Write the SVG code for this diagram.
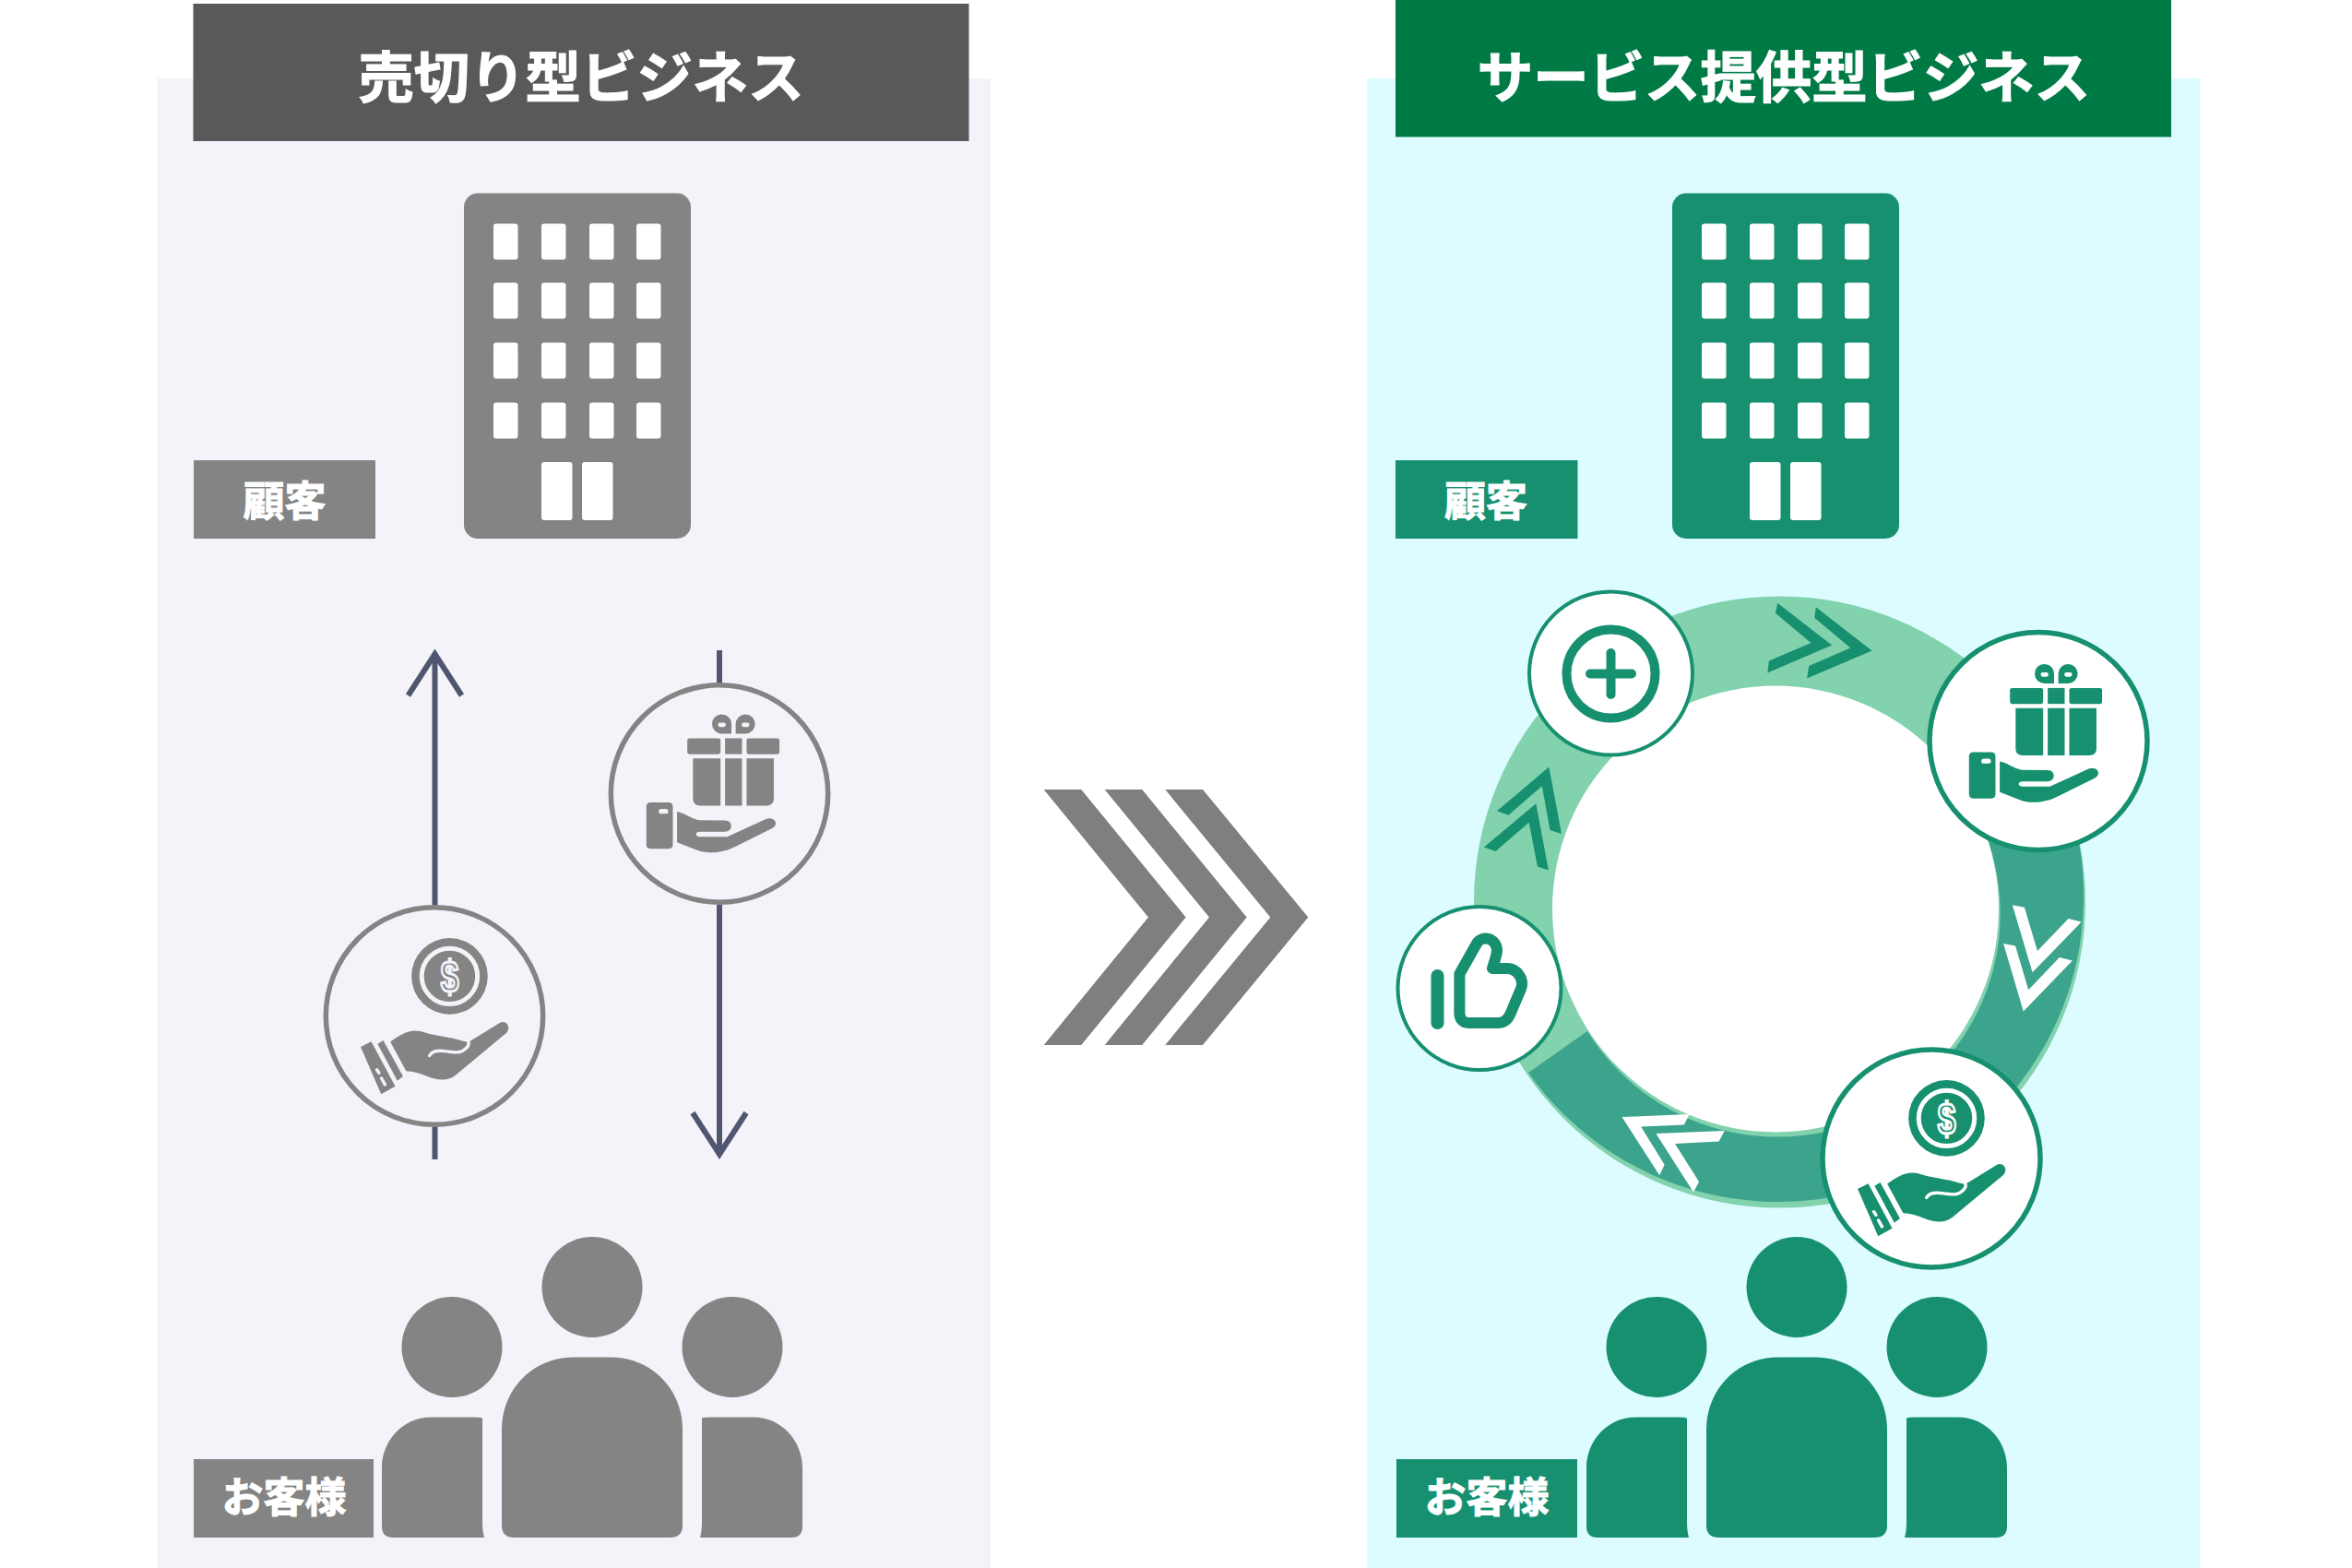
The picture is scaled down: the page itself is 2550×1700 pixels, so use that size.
<svg xmlns="http://www.w3.org/2000/svg" xmlns:xlink="http://www.w3.org/1999/xlink" width="2550" height="1700" viewBox="0 0 2550 1700">
<style>
text{font-family:"Noto Sans CJK JP","Liberation Sans",sans-serif;font-weight:700;fill:#fff;text-anchor:middle;stroke:#fff}
.title{font-size:60.400px;stroke-width:1.200}
.lab{font-size:45px;stroke-width:1}
.grey{color:#848484;--bg:#f3f3f9}
.teal{color:#179070;--bg:#fff}
.cc{fill:currentColor}
.bubble{fill:var(--bg);stroke:currentColor}
.win{fill:#fff}
.wire{fill:none;stroke:#50566f;stroke-width:6}
.chev{fill:#7f7f7f}
.cut{fill:none;stroke:var(--bg);stroke-linecap:round}
.dollar{font-family:"Liberation Sans",sans-serif;font-weight:700;font-size:128px;fill:currentColor;stroke:var(--bg);stroke-width:8}
.ico{fill:none;stroke:#179070;stroke-linecap:round;stroke-linejoin:round}
</style>
<defs>
<marker id="open" markerUnits="userSpaceOnUse" markerWidth="120" markerHeight="120" refX="60" refY="60" orient="auto" viewBox="0 0 120 120" overflow="visible">
<path d="M15,31 L60,60 L15,89" fill="none" stroke="#50566f" stroke-width="6"/>
</marker>
<g id="tower">
<rect x="0" y="0" width="246" height="374.500" rx="15" ry="15" class="cc"/>
<g class="win">
<rect x="32" y="33" width="26.500" height="39" rx="3"/><rect x="84" y="33" width="26.500" height="39" rx="3"/><rect x="136" y="33" width="26.500" height="39" rx="3"/><rect x="187" y="33" width="26.500" height="39" rx="3"/>
<rect x="32" y="97" width="26.500" height="39" rx="3"/><rect x="84" y="97" width="26.500" height="39" rx="3"/><rect x="136" y="97" width="26.500" height="39" rx="3"/><rect x="187" y="97" width="26.500" height="39" rx="3"/>
<rect x="32" y="162" width="26.500" height="39" rx="3"/><rect x="84" y="162" width="26.500" height="39" rx="3"/><rect x="136" y="162" width="26.500" height="39" rx="3"/><rect x="187" y="162" width="26.500" height="39" rx="3"/>
<rect x="32" y="227" width="26.500" height="39" rx="3"/><rect x="84" y="227" width="26.500" height="39" rx="3"/><rect x="136" y="227" width="26.500" height="39" rx="3"/><rect x="187" y="227" width="26.500" height="39" rx="3"/>
<rect x="84" y="291.500" width="33.500" height="63" rx="3"/><rect x="128" y="291.500" width="33.500" height="63" rx="3"/>
</g>
</g>
<g id="people" class="cc">
<circle cx="642" cy="1395.500" r="54.500"/>
<circle cx="490" cy="1460.500" r="54.500"/>
<circle cx="794" cy="1460.500" r="54.500"/>
<path d="M544,1550 C544,1506 578,1471.500 622,1471.500 L662,1471.500 C706,1471.500 740,1506 740,1550 L740,1654 Q740,1667 726,1667 L558,1667 Q544,1667 544,1654 Z"/>
<path d="M414,1591 C414,1565 434,1536.500 468,1536.500 L514,1536.500 Q520,1536.500 523,1537.500 L523,1650 Q523,1660 525,1667 L426,1667 Q414,1667 414,1655 Z"/>
<path d="M870,1591 C870,1565 850,1536.500 816,1536.500 L770,1536.500 Q764,1536.500 761,1537.500 L761,1650 Q761,1660 759,1667 L858,1667 Q870,1667 870,1655 Z"/>
</g>
<g id="gift" transform="scale(.3827) translate(-1203,-420)" class="cc" fill-rule="evenodd">
<path d="M1237,250 L1237,222 A27.500,27.500 0 1 0 1210,250 Z M1205,219 L1215,219 A6,6 0 0 1 1215,231 L1205,231 A6,6 0 0 1 1205,219 Z"/>
<path d="M1249,250 L1249,222 A27.500,27.500 0 1 1 1277,250 Z M1272,219 L1282,219 A6,6 0 0 1 1282,231 L1272,231 A6,6 0 0 1 1272,219 Z"/>
<rect x="1112" y="263" width="94" height="45" rx="6"/><rect x="1219" y="263" width="48" height="45"/><rect x="1280" y="263" width="93" height="45" rx="6"/>
<path d="M1128,320 L1206,320 L1206,454 L1148,454 Q1128,454 1128,434 Z"/><rect x="1219" y="320" width="48" height="134"/><path d="M1280,320 L1357,320 L1357,434 Q1357,454 1337,454 L1280,454 Z"/>
<path d="M1008,445 L1059,445 Q1071,445 1071,457 L1071,564 Q1071,576 1059,576 L1008,576 Q996,576 996,564 L996,457 Q996,445 1008,445 Z M1038,463 L1051,463 A7,7 0 0 1 1051,477 L1038,477 A7,7 0 0 1 1038,463 Z"/>
<path d="M1083,471 C1105,475 1120,490 1145,495 L1218,496 C1232,496 1237,505 1236,514 C1235,524 1225,528 1215,528 L1148,528 C1133,528 1133,542 1148,542 L1225,542 L1335,492 C1350,486 1365,495 1362,507 C1360,515 1352,518 1345,522 L1250,569 C1215,588 1170,592 1140,580 L1083,558 Z"/>
</g>
<g id="coinhand" transform="scale(.3827) translate(-395,-1050)" class="cc">
<circle cx="438" cy="936" r="108"/>
<circle cx="438" cy="936" r="79" fill="none" stroke="var(--bg)" stroke-width="13"/>
<text transform="translate(438,980) scale(.72,1)" class="dollar">$</text>
<path d="M270,1122 C300,1100 325,1085 355,1092 C390,1104 430,1108 460,1115 C475,1120 485,1122 493,1122 L580,1068 C595,1060 610,1075 603,1090 C600,1098 595,1100 585,1108 L460,1212 C435,1235 405,1232 375,1220 C355,1212 335,1205 315,1205 Z"/>
<path d="M381,1161 C390,1145 410,1146 430,1149 C455,1152 470,1156 485,1140 C490,1135 495,1130 491,1122" class="cut" stroke-width="9"/>
<path d="M234,1128 L250,1118 L306,1220 L290,1232 Z"/>
<path d="M186,1136 L216,1121 L284,1248 L244,1270 Z"/>
<path d="M232,1201 L238,1210 M245,1225 L255,1243" class="cut" stroke-width="9"/>
</g>
</defs>

<g id="panel-left">
<rect x="171" y="85" width="903" height="1615" fill="#f3f3f9"/>
<rect x="209.500" y="4" width="841" height="149" fill="#595959"/>
<text x="630" y="106" class="title">売切り型ビジネス</text>
</g>
<g id="panel-right">
<rect x="1482" y="85" width="903" height="1615" fill="#ddfcff"/>
<rect x="1513" y="0" width="841" height="148.500" fill="#007a45"/>
<text x="1934" y="106" class="title">サービス提供型ビジネス</text>
</g>

<g id="connectors">
<path class="wire" d="M471.500,982 L471.500,709" marker-end="url(#open)"/>
<path class="wire" d="M471.500,1221 L471.500,1257"/>
<path class="wire" d="M780,705 L780,741"/>
<path class="wire" d="M780,981 L780,1251.500" marker-end="url(#open)"/>
</g>

<g id="building-left" class="grey" transform="translate(503,209.500)"><use href="#tower"/></g>
<g id="label-company-left"><rect x="210" y="499" width="197" height="85" fill="#848484"/><text x="308.500" y="559.500" class="lab">顧客</text></g>
<g id="bubble-coin-left" class="grey"><circle cx="471" cy="1101.500" r="117.700" class="bubble" stroke-width="5.500"/><use href="#coinhand" transform="translate(471,1102)"/></g>
<g id="bubble-gift-left" class="grey"><circle cx="780" cy="860.500" r="117.700" class="bubble" stroke-width="5.500"/><use href="#gift" transform="translate(780,860.500)"/></g>
<g id="people-left" class="grey"><use href="#people"/></g>
<g id="label-customer-left"><rect x="210" y="1582" width="195" height="85" fill="#848484"/><text x="308" y="1640" class="lab">お客様</text></g>

<g id="transition-chevrons" class="chev">
<polygon points="1131.700,856 1172.300,856 1285.700,994.500 1172.300,1133 1131.700,1133 1245,994.500"/>
<polygon points="1197.700,856 1238.300,856 1351.700,994.500 1238.300,1133 1197.700,1133 1311,994.500"/>
<polygon points="1263.300,856 1304,856 1418.300,994.500 1304,1133 1263.300,1133 1377.300,994.500"/>
</g>

<g id="building-right" class="teal" transform="translate(1813,209.500)"><use href="#tower"/></g>
<g id="label-company-right"><rect x="1513" y="499" width="197.500" height="85" fill="#179070"/><text x="1611" y="559.500" class="lab">顧客</text></g>

<g id="cycle-ring">
<circle cx="1929.500" cy="978" r="331.500" fill="#82d2ae"/>
<path d="M1657,1163 A331.500,331.500 0 0 0 2240.500,862 L2144,884 A242,242 0 0 1 1721,1118 Z" fill="#3ca48c"/>
<circle cx="1925" cy="985.500" r="242" fill="#fff"/>
<g transform="translate(1500,620) scale(.542,.4975)">
<g fill="#179070">
<polygon points="788,68 897,160 768,220 771,194 855,155 784,90"/>
<polygon points="865,77 977,172 847,232 851,205 934,166 862,100"/>
<polygon points="331,425 356,571 333,563 317,467 250,530 227,521"/>
<polygon points="305,505 330,650 308,642 291,546 224,609 201,600"/>
</g>
<g fill="#fff">
<polygon points="1258,726 1282,731 1308,826 1370,756 1396,763 1298,873"/>
<polygon points="1240,810 1264,815 1290,911 1352,840 1378,847 1280,958"/>
<polygon points="477,1188 612,1182 601,1205 515,1209 562,1292 552,1315"/>
<polygon points="545,1224 682,1218 671,1241 583,1246 631,1329 620,1352"/>
</g>
</g>
</g>

<g id="bubble-plus" class="teal"><circle cx="1746.500" cy="730" r="88.500" class="bubble" stroke-width="4"/>
<circle cx="1746.500" cy="730.500" r="48" class="ico" stroke-width="10"/><path d="M1724,730.500 L1769,730.500 M1746.500,708 L1746.500,753" class="ico" stroke-width="10"/></g>
<g id="bubble-gift-right" class="teal"><circle cx="2210" cy="803.500" r="118" class="bubble" stroke-width="5.500"/><use href="#gift" transform="translate(2214,806)"/></g>
<g id="bubble-thumb" class="teal"><circle cx="1604" cy="1071.500" r="88.500" class="bubble" stroke-width="4"/>
<path d="M1558.500,1058 L1558.500,1109" class="ico" stroke-width="14"/>
<path d="M1582.400,1056 L1601,1023 C1606,1014 1622,1016 1623,1030 C1623,1036 1619,1046 1618,1050 L1634,1050 C1645,1050 1653,1062 1649,1072 L1638,1098 C1635,1106 1630,1109 1624,1109 L1592,1109 C1586,1109 1582.400,1105 1582.400,1098 Z" class="ico" stroke-width="12"/></g>
<g id="bubble-coin-right" class="teal"><circle cx="2094" cy="1256" r="118" class="bubble" stroke-width="5.500"/><use href="#coinhand" transform="translate(2094,1256)"/></g>

<g id="people-right" class="teal" transform="translate(1306,0)"><use href="#people"/></g>
<g id="label-customer-right"><rect x="1514" y="1582" width="196" height="85" fill="#179070"/><text x="1612" y="1640" class="lab">お客様</text></g>
</svg>
